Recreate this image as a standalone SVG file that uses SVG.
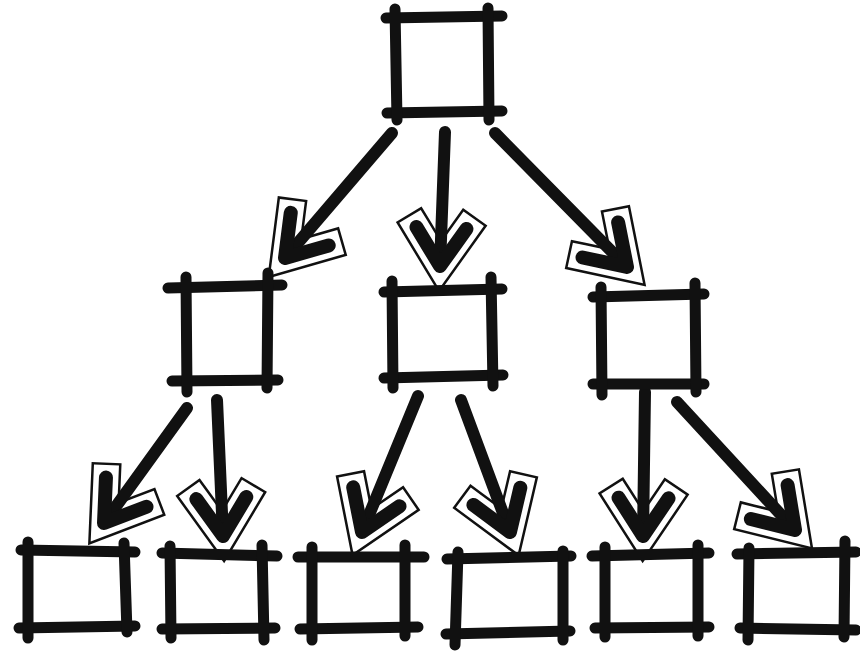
<svg xmlns="http://www.w3.org/2000/svg" xmlns:xlink="http://www.w3.org/1999/xlink" width="860" height="652" viewBox="0 0 860 652">
<style>
.bx line{stroke:#111;stroke-width:11;stroke-linecap:round;fill:none}
.shaft{stroke:#111;stroke-width:12;stroke-linecap:round;fill:none}
.ho{stroke:#111;stroke-width:30;stroke-linecap:square;stroke-linejoin:miter;fill:none}
.hw{stroke:#fff;stroke-width:25;stroke-linecap:square;stroke-linejoin:miter;fill:none}
.hc{stroke:#111;stroke-width:14;stroke-linecap:round;stroke-linejoin:round;fill:none}
</style>
<defs>
<path id="chev" d="M-25,-38 L0,0 L25,-38"/>
</defs>
<rect width="860" height="652" fill="#fff"/>
<g id="connectors">
<g id="e-top-m1">
<use href="#chev" class="ho" transform="translate(285,258) rotate(40.6)"/>
<use href="#chev" class="hw" transform="translate(285,258) rotate(40.6)"/>
<line class="shaft" x1="392" y1="133" x2="285" y2="258"/>
<use href="#chev" class="hc" transform="translate(285,258) rotate(40.6)"/>
</g>
<g id="e-top-m2">
<use href="#chev" class="ho" transform="translate(440,266) rotate(2.2)"/>
<use href="#chev" class="hw" transform="translate(440,266) rotate(2.2)"/>
<line class="shaft" x1="445" y1="132" x2="440" y2="266"/>
<use href="#chev" class="hc" transform="translate(440,266) rotate(2.2)"/>
</g>
<g id="e-top-m3">
<use href="#chev" class="ho" transform="translate(627,267) rotate(-44.6)"/>
<use href="#chev" class="hw" transform="translate(627,267) rotate(-44.6)"/>
<line class="shaft" x1="495" y1="133" x2="627" y2="267"/>
<use href="#chev" class="hc" transform="translate(627,267) rotate(-44.6)"/>
</g>
<g id="e-m1-b1">
<use href="#chev" class="ho" transform="translate(104,523) rotate(35.8)"/>
<use href="#chev" class="hw" transform="translate(104,523) rotate(35.8)"/>
<line class="shaft" x1="187" y1="408" x2="104" y2="523"/>
<use href="#chev" class="hc" transform="translate(104,523) rotate(35.8)"/>
</g>
<g id="e-m1-b2">
<use href="#chev" class="ho" transform="translate(223,536) rotate(-2.5)"/>
<use href="#chev" class="hw" transform="translate(223,536) rotate(-2.5)"/>
<line class="shaft" x1="217" y1="400" x2="223" y2="536"/>
<use href="#chev" class="hc" transform="translate(223,536) rotate(-2.5)"/>
</g>
<g id="e-m2-b3">
<use href="#chev" class="ho" transform="translate(362,532) rotate(22.2)"/>
<use href="#chev" class="hw" transform="translate(362,532) rotate(22.2)"/>
<line class="shaft" x1="418" y1="396" x2="362" y2="532"/>
<use href="#chev" class="hc" transform="translate(362,532) rotate(22.2)"/>
</g>
<g id="e-m2-b4">
<use href="#chev" class="ho" transform="translate(510,532) rotate(-20.2)"/>
<use href="#chev" class="hw" transform="translate(510,532) rotate(-20.2)"/>
<line class="shaft" x1="461" y1="400" x2="510" y2="532"/>
<use href="#chev" class="hc" transform="translate(510,532) rotate(-20.2)"/>
</g>
<g id="e-m3-b5">
<use href="#chev" class="ho" transform="translate(643,536) rotate(0.8)"/>
<use href="#chev" class="hw" transform="translate(643,536) rotate(0.8)"/>
<line class="shaft" x1="645" y1="392" x2="643" y2="536"/>
<use href="#chev" class="hc" transform="translate(643,536) rotate(0.8)"/>
</g>
<g id="e-m3-b6">
<use href="#chev" class="ho" transform="translate(795,530) rotate(-42.7)"/>
<use href="#chev" class="hw" transform="translate(795,530) rotate(-42.7)"/>
<line class="shaft" x1="677" y1="402" x2="795" y2="530"/>
<use href="#chev" class="hc" transform="translate(795,530) rotate(-42.7)"/>
</g>
</g>
<g id="top" class="bx">
<line x1="386" y1="18" x2="502" y2="16"/>
<line x1="387" y1="113" x2="502" y2="111"/>
<line x1="395" y1="9" x2="397" y2="120"/>
<line x1="488" y1="8" x2="489" y2="120"/>
</g>
<g id="m1" class="bx">
<line x1="168" y1="288" x2="282" y2="285"/>
<line x1="172" y1="381" x2="278" y2="380"/>
<line x1="186" y1="277" x2="187" y2="392"/>
<line x1="268" y1="273" x2="267" y2="388"/>
</g>
<g id="m2" class="bx">
<line x1="384" y1="292" x2="502" y2="289"/>
<line x1="384" y1="378" x2="503" y2="375"/>
<line x1="392" y1="281" x2="393" y2="388"/>
<line x1="491" y1="277" x2="493" y2="386"/>
</g>
<g id="m3" class="bx">
<line x1="593" y1="297" x2="704" y2="294"/>
<line x1="593" y1="384" x2="704" y2="384"/>
<line x1="601" y1="287" x2="602" y2="395"/>
<line x1="695" y1="283" x2="696" y2="392"/>
</g>
<g id="b1" class="bx">
<line x1="21" y1="550" x2="135" y2="552"/>
<line x1="19" y1="628" x2="135" y2="626"/>
<line x1="28" y1="542" x2="28" y2="638"/>
<line x1="124" y1="543" x2="127" y2="632"/>
</g>
<g id="b2" class="bx">
<line x1="162" y1="553" x2="277" y2="556"/>
<line x1="162" y1="629" x2="275" y2="628"/>
<line x1="170" y1="546" x2="171" y2="638"/>
<line x1="262" y1="545" x2="264" y2="640"/>
</g>
<g id="b3" class="bx">
<line x1="298" y1="557" x2="424" y2="557"/>
<line x1="300" y1="629" x2="418" y2="627"/>
<line x1="312" y1="547" x2="312" y2="640"/>
<line x1="405" y1="545" x2="405" y2="636"/>
</g>
<g id="b4" class="bx">
<line x1="447" y1="559" x2="571" y2="556"/>
<line x1="446" y1="634" x2="570" y2="631"/>
<line x1="458" y1="552" x2="455" y2="645"/>
<line x1="563" y1="551" x2="563" y2="640"/>
</g>
<g id="b5" class="bx">
<line x1="592" y1="556" x2="709" y2="553"/>
<line x1="595" y1="628" x2="709" y2="627"/>
<line x1="605" y1="547" x2="605" y2="637"/>
<line x1="698" y1="545" x2="698" y2="636"/>
</g>
<g id="b6" class="bx">
<line x1="737" y1="554" x2="856" y2="552"/>
<line x1="740" y1="628" x2="856" y2="630"/>
<line x1="749" y1="548" x2="748" y2="640"/>
<line x1="845" y1="541" x2="844" y2="637"/>
</g>
</svg>
